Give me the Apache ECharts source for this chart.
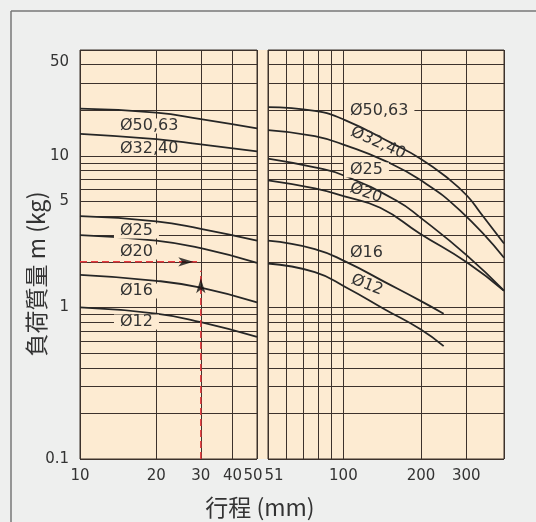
<!DOCTYPE html>
<html>
<head>
<meta charset="utf-8">
<script src="https://cdn.jsdelivr.net/npm/echarts@6/dist/echarts.min.js"></script>
<style>
html,body{margin:0;padding:0;background:#eeefee;}
#c{width:536px;height:522px;}
</style>
</head>
<body>
<div id="c"></div>
<script>
// ---------- data ----------
const yGridValues = [0.1,0.2,0.3,0.4,0.5,0.6,0.7,0.8,0.9,1,2,3,4,5,6,7,8,9,10,20,30,40,50];
const yTickLabels = [0.1,1,5,10,50];
const xLeftGridValues = [10,20,30,40,50];
const xLeftTickLabels = [10,20,30,40,50];
const xRightGridValues = [51,60,70,80,90,100,200,300,420];
const xRightTickLabels = [51,100,200,300];

// left panel (stroke 10-50 mm)
const leftStroke = [10,20,30,50];
const left_50_63 = [20.5,19.3,17.5,15.2];
const left_32_40 = [14.0,12.9,11.9,10.7];
const left_25 = [4.0,3.7,3.3,2.76];
const left_20 = [3.0,2.76,2.46,1.97];
const left_16 = [1.64,1.5,1.35,1.08];
const left_12 = [1.0,0.91,0.8,0.64];

// right panel (stroke 51+ mm)
const rightStroke_50_63 = [51,77.5,101,156,198.5,253,302,340,420];
const right_50_63 = [21.0,19.8,17.3,12.0,9.63,7.17,5.46,4.22,2.64];
const rightStroke_32_40 = [51,77.5,104,145,198.5,284,420];
const right_32_40 = [14.8,13.5,11.6,9.27,6.95,4.35,2.13];
const rightStroke_25 = [51,77.5,101,161,198.5,302,420];
const right_25 = [9.6,8.4,7.4,5.06,3.93,2.2,1.29];
const rightStroke_20 = [51,77.5,101,139,198.5,302,420];
const right_20 = [6.9,6.1,5.4,4.55,3.07,1.98,1.29];
const rightStroke_16 = [51,77.5,103,145,198.5,245];
const right_16 = [2.76,2.43,1.99,1.47,1.11,0.91];
const rightStroke_12 = [51,77.5,103,145,198.5,245];
const right_12 = [1.95,1.71,1.35,0.97,0.72,0.556];

// example read-off guide
const guideH_x = [10,30];
const guideH_y = [2,2];
const guideV_x = [30,30];
const guideV_y = [0.1,1.75];

// ---------- chart ----------
const lg = v => Math.log10(v);
const toPts = (xs, ys) => xs.map((x, i) => [lg(x), lg(ys[i])]);
const findLabel = (list, v) => list.find(t => Math.abs(lg(t) - v) < 1e-6);

const GRID = '#3d322c';
const TXT = '#333333';
const FONT = 'DejaVu Sans';
const BEIGE = '#fdebd2';
const tickFont = {color: TXT, fontSize: 15, fontFamily: FONT};
const rich = {
  n: Object.assign({}, tickFont),
  l50: Object.assign({}, tickFont, {padding: [0, 8, 0, 0]}),
  r51: Object.assign({}, tickFont, {padding: [0, 0, 0, 12]}),
  t50: Object.assign({}, tickFont, {padding: [24, 0, 0, 0]})
};
const fmt = (list, keys) => v => {
  const t = findLabel(list, v);
  if (t === undefined) return '';
  const k = keys[t] || 'n';
  return '{' + k + '|' + t + '}';
};

const splitLine = {show: true, lineStyle: {color: GRID, width: 1}};

function xAxis(idx, min, max, grid, labels, keys) {
  return {
    gridIndex: idx, type: 'value', min: lg(min), max: lg(max),
    axisLine: {show: false},
    axisTick: {show: false, customValues: grid.map(lg)},
    splitLine: splitLine,
    axisLabel: {customValues: labels.map(lg), formatter: fmt(labels, keys), rich: rich, margin: 10,
      showMinLabel: true, showMaxLabel: true, hideOverlap: false,
      color: TXT, fontSize: 15, fontFamily: FONT}
  };
}
function yAxis(idx, showLabel) {
  return {
    gridIndex: idx, type: 'value', min: lg(0.1), max: lg(50),
    axisLine: {show: false},
    axisTick: {show: false, customValues: yGridValues.map(lg)},
    splitLine: splitLine,
    axisLabel: {show: showLabel, customValues: yTickLabels.map(lg), formatter: fmt(yTickLabels, {50: 't50'}), rich: rich, margin: 11,
      showMinLabel: true, showMaxLabel: true, hideOverlap: false,
      color: TXT, fontSize: 15, fontFamily: FONT}
  };
}

const curve = (xs, ys, idx) => ({
  type: 'line', xAxisIndex: idx, yAxisIndex: idx, data: toPts(xs, ys),
  smooth: 0.5, symbol: 'none', silent: true,
  lineStyle: {color: '#262626', width: 1.8}, z: 3
});

const lbl = (text, x, y, opts) => {
  opts = opts || {};
  const style = {
    text: text, font: '16px "DejaVu Sans"', fill: TXT,
    align: opts.align || 'left', verticalAlign: 'middle', lineHeight: 15
  };
  if (opts.bg) { style.backgroundColor = BEIGE; style.padding = [0, 6]; }
  return {type: 'text', x: x, y: y, rotation: opts.rot || 0, z: 100, style: style, silent: true};
};

const option = {
  animation: false,
  backgroundColor: '#eeefee',
  grid: [
    {left: 80, top: 50, width: 177, height: 409, show: true, backgroundColor: BEIGE, borderColor: GRID, borderWidth: 1, outerBoundsMode: 'none'},
    {left: 268, top: 50, width: 236, height: 409, show: true, backgroundColor: BEIGE, borderColor: GRID, borderWidth: 1, outerBoundsMode: 'none'}
  ],
  xAxis: [
    xAxis(0, 10, 50, xLeftGridValues, xLeftTickLabels, {50: 'l50'}),
    xAxis(1, 51, 420, xRightGridValues, xRightTickLabels, {51: 'r51'})
  ],
  yAxis: [yAxis(0, true), yAxis(1, false)],
  series: [
    curve(leftStroke, left_50_63, 0),
    curve(leftStroke, left_32_40, 0),
    curve(leftStroke, left_25, 0),
    curve(leftStroke, left_20, 0),
    curve(leftStroke, left_16, 0),
    curve(leftStroke, left_12, 0),
    curve(rightStroke_50_63, right_50_63, 1),
    curve(rightStroke_32_40, right_32_40, 1),
    curve(rightStroke_25, right_25, 1),
    curve(rightStroke_20, right_20, 1),
    curve(rightStroke_16, right_16, 1),
    curve(rightStroke_12, right_12, 1),
    {type: 'line', xAxisIndex: 0, yAxisIndex: 0, data: toPts(guideH_x, guideH_y), symbol: 'none', silent: true, z: 4,
     lineStyle: {color: '#e8383d', width: 1.5, type: [7, 4]}},
    {type: 'line', xAxisIndex: 0, yAxisIndex: 0, data: toPts(guideV_x, guideV_y), symbol: 'none', silent: true, z: 4,
     lineStyle: {color: '#e8383d', width: 1.5, type: [7, 4]}},
    {type: 'scatter', xAxisIndex: 0, yAxisIndex: 0, data: [[lg(guideH_x[1]), lg(guideH_y[1])]], symbol: 'arrow',
     symbolSize: [7, 15], symbolRotate: -90, symbolOffset: [-7.5, 0], itemStyle: {color: '#111'}, silent: true, z: 5},
    {type: 'scatter', xAxisIndex: 0, yAxisIndex: 0, data: [[lg(guideV_x[1]), lg(guideV_y[1])]], symbol: 'arrow',
     symbolSize: [7, 15], symbolRotate: 0, symbolOffset: [0, 7.5], itemStyle: {color: '#111'}, silent: true, z: 5}
  ],
  graphic: [
    {type: 'rect', shape: {x: 257, y: 50, width: 11, height: 409}, style: {fill: BEIGE}, z: -1, silent: true},
    {type: 'line', shape: {x1: 11, y1: 11, x2: 11, y2: 522}, style: {stroke: '#777', lineWidth: 1.5}, silent: true},
    {type: 'line', shape: {x1: 11, y1: 11, x2: 536, y2: 11}, style: {stroke: '#777', lineWidth: 1.5}, silent: true},
    lbl('Ø50,63', 114, 126, {bg: true}),
    lbl('Ø32,40', 120, 149),
    lbl('Ø25', 114, 231, {bg: true}),
    lbl('Ø20', 114, 252, {bg: true}),
    lbl('Ø16', 114, 291, {bg: true}),
    lbl('Ø12', 114, 322, {bg: true}),
    lbl('Ø50,63', 344, 111, {bg: true}),
    lbl('Ø32,40', 378, 143, {align: 'center', rot: -0.42}),
    lbl('Ø25', 344, 170, {bg: true}),
    lbl('Ø20', 366, 193, {align: 'center', rot: -0.33}),
    lbl('Ø16', 350, 253),
    lbl('Ø12', 367, 285, {align: 'center', rot: -0.37}),
    {type: 'text', x: 260, y: 507, z: 100, silent: true,
     style: {text: '行程 (mm)', font: '23px "Noto Sans CJK JP"', fill: TXT, align: 'center', verticalAlign: 'middle'}},
    {type: 'text', x: 36, y: 274, rotation: Math.PI / 2, z: 100, silent: true,
     style: {text: '負荷質量 m (kg)', font: '23px "Noto Sans CJK JP"', fill: TXT, align: 'center', verticalAlign: 'middle'}}
  ]
};

const chart = echarts.init(document.getElementById('c'));
chart.setOption(option);
</script>
</body>
</html>
